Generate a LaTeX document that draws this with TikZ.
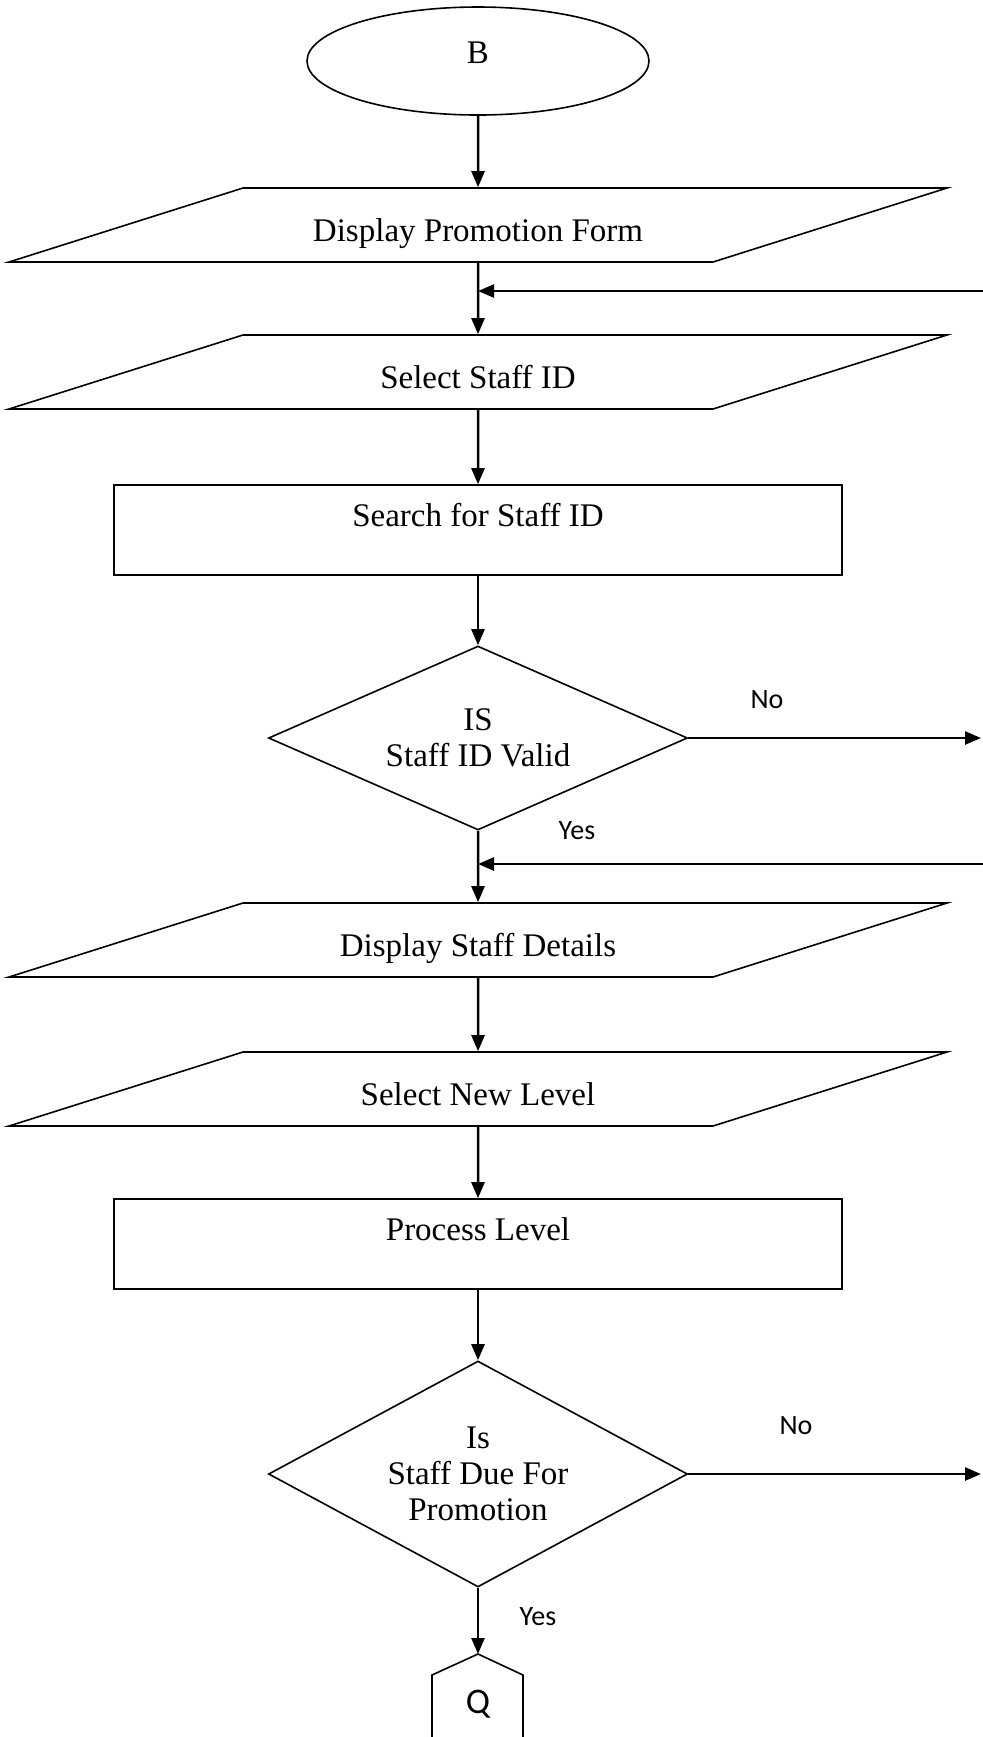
\documentclass[tikz,border=0pt]{standalone}
\usepackage{fontspec}
\setmainfont{Liberation Serif}
\newfontfamily\labelfont{Carlito}
\usetikzlibrary{positioning, shapes.geometric, arrows.meta, calc}

\tikzset{
    shapeline/.style={draw, line width=0.8pt, font=\fontsize{16.5}{18}\selectfont, inner sep=0pt},
    terminal/.style={shapeline, ellipse, minimum width=171pt, minimum height=54pt, text height=11.5pt, text depth=9.5pt},
    io/.style={shapeline, trapezium, trapezium left angle=17.55, trapezium right angle=162.45, trapezium stretches body, minimum width=469pt, text height=26.5pt, text depth=10.5pt},
    process/.style={shapeline, rectangle, minimum width=364pt, minimum height=45pt, text height=11.5pt, text depth=15.5pt},
    decision/.style={shapeline, diamond, aspect=2, minimum width=209.5pt, align=center},
    flow/.style={-{Triangle[width=6.5pt,length=8pt]}, line width=1.25pt},
    answer/.style={font=\labelfont\fontsize{14}{16}\selectfont},
}

\begin{document}
\begin{tikzpicture}[x=0.5pt, y=-0.5pt]
    % 描画範囲
    \useasboundingbox (0,0) rectangle (983,1737);
    \def\cx{478}

    % 図形
    \node[terminal] (start) at (\cx,61) {B};
    \node[io] (form) at (\cx,225) {Display Promotion Form};
    \node[io] (selid) at (\cx,372) {Select Staff ID};
    \node[process] (search) at (\cx,530) {Search for Staff ID};
    \node[decision, minimum height=92pt] (valid) at (\cx,738) {IS\\Staff ID Valid};
    \node[io] (details) at (\cx,940) {Display Staff Details};
    \node[io] (level) at (\cx,1089) {Select New Level};
    \node[process] (proc) at (\cx,1244) {Process Level};
    \node[decision, minimum height=113pt] (due) at (\cx,1474) {Is\\Staff Due For\\Promotion};

    % 結合子 Q
    \coordinate (qtip) at (\cx,1654);
    \draw[line width=0.8pt] (432,1760) -- (432,1675) -- (qtip) -- (523,1675) -- (523,1760);
    \node[font=\labelfont\fontsize{18}{20}\selectfont] (q) at (\cx,1704) {Q};

    % 端の点
    \coordinate (inA) at (983,291);
    \coordinate (inB) at (983,864);
    \coordinate (outA) at (981,738);
    \coordinate (outB) at (981,1474);

    % 矢印
    \draw[flow] (start.south) -- (form.north);
    \draw[flow] (form.south) -- (selid.north);
    \draw[flow] (selid.south) -- (search.north);
    \draw[flow] (search.south) -- (valid.north);
    \draw[flow] (valid.south) -- (details.north);
    \draw[flow] (details.south) -- (level.north);
    \draw[flow] (level.south) -- (proc.north);
    \draw[flow] (proc.south) -- (due.north);
    \draw[flow] (due.south) -- (qtip);
    \draw[flow] (valid.east) -- (outA);
    \draw[flow] (due.east) -- (outB);
    \draw[flow] (inA) -- (inA -| form.south);
    \draw[flow] (inB) -- (inB -| valid.south);

    % ラベル
    \node[answer] (noA) at (767,700) {No};
    \node[answer] (yesA) at (577,831) {Yes};
    \node[answer] (noB) at (796,1426) {No};
    \node[answer] (yesB) at (538,1617) {Yes};
\end{tikzpicture}
\end{document}
